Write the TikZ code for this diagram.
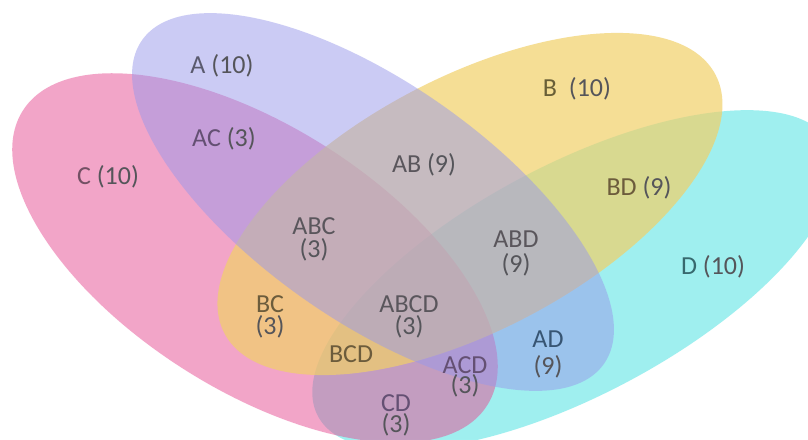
\documentclass[tikz,border=0pt]{standalone}
\usepackage{fontspec}
\setmainfont{Carlito}
\definecolor{colA}{RGB}{153,153,235}
\definecolor{colB}{RGB}{241,208,105}
\definecolor{colC}{RGB}{231,77,147}
\definecolor{colD}{RGB}{65,225,225}
\definecolor{numgray}{RGB}{85,85,90}
\definecolor{ltA}{RGB}{90,90,110}
\definecolor{ltB}{RGB}{105,95,55}
\definecolor{ltC}{RGB}{115,80,100}
\definecolor{ltD}{RGB}{55,105,110}
\definecolor{ltP}{RGB}{100,80,115}
\definecolor{ltG}{RGB}{90,86,92}
\definecolor{ltY}{RGB}{108,92,60}
\definecolor{ltBl}{RGB}{55,85,115}
\begin{document}
\lineskiplimit=-40pt
\begin{tikzpicture}[x=1pt,y=-1pt,
  setfill/.style={fill opacity=0.5},
  lbl/.style={font=\fontsize{26}{22}\selectfont,
              text=numgray, align=center, inner sep=0pt}]
\useasboundingbox (0,0) rectangle (808,439);
\clip (0,0) rectangle (808,439);
\fill[white] (0,0) rectangle (808,439);
% ellipse centres
\coordinate (oA) at (373,202);
\coordinate (oB) at (470,204);
\coordinate (oC) at (255,258);
\coordinate (oD) at (574,280);
% sets, bottom to top: D, C, B, A
\fill[colD, setfill, rotate around={28:(oD)}] (oD) ellipse [x radius=290, y radius=115];
\fill[colC, setfill, rotate around={-32.4:(oC)}] (oC) ellipse [x radius=275, y radius=132];
\fill[colB, fill opacity=0.7, rotate around={27.8:(oB)}] (oB) ellipse [x radius=277.5, y radius=126.5];
\fill[colA, setfill, rotate around={-35:(oA)}] (oA) ellipse [x radius=282, y radius=119];
% labels
\node[lbl] (tA) at (222,66) {\textcolor{ltA}{A} (10)};
\node[lbl] (tB) at (577,89) {\textcolor{ltB}{B}\ \ (10)};
\node[lbl] (tC) at (108,177) {\textcolor{ltC}{C} (10)};
\node[lbl] (tD) at (713,267) {\textcolor{ltD}{D} (10)};
\node[lbl] (tAC) at (224,139) {\textcolor{ltP}{AC} (3)};
\node[lbl] (tAB) at (424,165) {\textcolor{ltG}{AB} (9)};
\node[lbl] (tBD) at (639,188) {\textcolor{ltY}{BD} (9)};
\node[lbl] (tABC) at (314,239) {\textcolor{ltG}{ABC}\\[1pt](3)};
\node[lbl] (tABD) at (516,253) {\textcolor{ltG}{ABD}\\[3pt](9)};
\node[lbl] (tBC) at (270,317) {\textcolor{ltY}{BC}\\[0pt](3)};
\node[lbl] (tABCD) at (409,317) {\textcolor{ltG}{ABCD}\\[0pt](3)};
\node[lbl] (tBCD) at (351,354) {\textcolor{ltY}{BCD}};
\node[lbl] (tACD) at (465,377) {\textcolor{ltP}{ACD}\\[-2pt](3)};
\node[lbl] (tAD) at (548,354) {\textcolor{ltBl}{AD}\\[5pt](9)};
\node[lbl] (tCD) at (396,415) {\textcolor{ltP}{CD}\\[-1pt](3)};
\end{tikzpicture}
\end{document}
